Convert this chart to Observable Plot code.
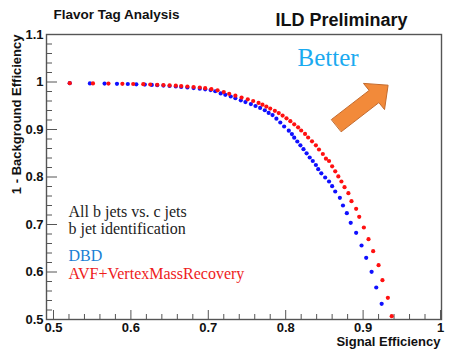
<!DOCTYPE html>
<html><head><meta charset="utf-8">
<script src="https://cdn.jsdelivr.net/npm/d3@7"></script>
<script src="https://cdn.jsdelivr.net/npm/@observablehq/plot@0.6"></script>
<style>html,body{margin:0;padding:0;background:#fff;} #chart svg{display:block;}</style>
</head><body><div id="chart"></div>
<script>
// DBD (blue)
const dbdX = [0.521,0.547,0.566,0.582,0.596,0.607,0.618,0.627,0.634,0.642,0.650,0.658,0.665,0.673,0.681,0.689,0.696,0.703,0.709,0.716,0.722,0.729,0.735,0.742,0.748,0.755,0.761,0.767,0.773,0.778,0.783,0.788,0.793,0.798,0.804,0.808,0.811,0.815,0.819,0.823,0.827,0.831,0.835,0.839,0.842,0.846,0.851,0.856,0.860,0.864,0.870,0.874,0.879,0.884,0.891,0.898,0.904,0.911,0.917,0.924];
const dbdY = [0.9975,0.9971,0.9966,0.9962,0.9958,0.9952,0.9945,0.9939,0.9933,0.9924,0.9916,0.9905,0.9895,0.9884,0.9872,0.9860,0.9846,0.9830,0.9805,0.9760,0.9730,0.9695,0.9660,0.9615,0.9578,0.9535,0.9495,0.9455,0.9405,0.9350,0.9303,0.9227,0.9147,0.9063,0.8975,0.8903,0.8827,0.8747,0.8667,0.8585,0.8499,0.8411,0.8337,0.8253,0.8164,0.8078,0.7989,0.7905,0.7806,0.7695,0.7562,0.7400,0.7238,0.7036,0.6825,0.6558,0.6299,0.6004,0.5674,0.5331];
// AVF+VertexMassRecovery (red)
const avfX = [0.521,0.551,0.571,0.589,0.603,0.616,0.625,0.634,0.642,0.650,0.658,0.665,0.673,0.681,0.689,0.696,0.704,0.712,0.720,0.727,0.735,0.743,0.751,0.758,0.765,0.770,0.775,0.780,0.786,0.791,0.796,0.801,0.806,0.811,0.816,0.820,0.825,0.829,0.834,0.839,0.843,0.848,0.852,0.856,0.860,0.864,0.868,0.872,0.876,0.881,0.885,0.891,0.895,0.901,0.907,0.913,0.920,0.925,0.932,0.937];
const avfY = [0.9975,0.9971,0.9966,0.9962,0.9958,0.9954,0.9947,0.9941,0.9935,0.9928,0.9922,0.9914,0.9905,0.9895,0.9884,0.9870,0.9850,0.9825,0.9790,0.9752,0.9712,0.9672,0.9635,0.9600,0.9560,0.9522,0.9482,0.9440,0.9394,0.9345,0.9293,0.9236,0.9175,0.9109,0.9046,0.8979,0.8907,0.8832,0.8752,0.8667,0.8579,0.8484,0.8385,0.8337,0.8225,0.8120,0.8013,0.7905,0.7785,0.7659,0.7491,0.7331,0.7162,0.6937,0.6691,0.6438,0.6143,0.5827,0.5457,0.5069];
// arrow outline ("Better" direction), in chart units
const arrowX = [0.8593,0.9078,0.9005,0.9323,0.9277,0.9204,0.8720];
const arrowY = [0.9213,0.9823,0.9971,0.9933,0.9419,0.9566,0.8956];

const xTicks = [0.5,0.6,0.7,0.8,0.9,1.0];
const xTickLabels = ["0.5","0.6","0.7","0.8","0.9","1"];
const yTicks = [0.5,0.6,0.7,0.8,0.9,1.0,1.1];
const yTickLabels = ["0.5","0.6","0.7","0.8","0.9","1","1.1"];

const dbd = dbdX.map((x,i)=>({x, y: dbdY[i]}));
const avf = avfX.map((x,i)=>({x, y: avfY[i]}));
const arrow = arrowX.map((x,i)=>({x, y: arrowY[i]}));
const minorX = d3.range(0.52, 1.0, 0.02).filter(v => Math.abs(v*10 - Math.round(v*10)) > 0.01);
const minorY = d3.range(0.52, 1.1, 0.02).filter(v => Math.abs(v*10 - Math.round(v*10)) > 0.01);

const W = 462, H = 350, mL = 46, mR = 21, mT = 34, mB = 31;
const fw = W - mL - mR, fh = H - mT - mB;
const sans = "Liberation Sans, Arial, Helvetica, sans-serif";
const serif = "Liberation Serif, Times New Roman, serif";
function label(str, px, base, fs, opts = {}) {
  return Plot.text([str], {text: d => d, frameAnchor: "top-left", dx: px - mL, dy: base - mT - 0.32*fs,
    lineAnchor: "middle", textAnchor: "start", fontSize: fs, fontFamily: sans, fill: "#111", ...opts});
}

const chart = Plot.plot({
  width: W, height: H, marginLeft: mL, marginRight: mR, marginTop: mT, marginBottom: mB,
  style: {fontFamily: sans, background: "#fff", overflow: "visible"},
  x: {domain: [0.49096, 1.0013], axis: null},
  y: {domain: [0.5, 1.1], axis: null},
  marks: [
    Plot.frame({stroke: "#555", strokeWidth: 1.4}),
    Plot.tickX(xTicks, {x: d => d, insetTop: fh - 9, stroke: "#555"}),
    Plot.tickX(minorX, {x: d => d, insetTop: fh - 5, stroke: "#555"}),
    Plot.tickY(yTicks, {y: d => d, insetRight: fw - 11, stroke: "#555"}),
    Plot.tickY(minorY, {y: d => d, insetRight: fw - 6, stroke: "#555"}),
    Plot.axisX({ticks: xTicks, tickSize: 0, tickPadding: 3, tickFormat: (d,i) => xTickLabels[i], fontSize: 13, fontWeight: "bold", label: null, fill: "#111"}),
    Plot.axisY({ticks: yTicks, tickSize: 0, tickPadding: 3, tickFormat: (d,i) => yTickLabels[i], fontSize: 13, fontWeight: "bold", label: null, fill: "#111"}),
    Plot.dot(dbd, {x: "x", y: "y", r: 2.1, fill: "#1010ff", stroke: "none"}),
    Plot.dot(avf, {x: "x", y: "y", r: 2.1, fill: "#ff1010", stroke: "none"}),
    Plot.line(arrow, {x: "x", y: "y", fill: "#f28a3a", stroke: "#c46a2c", strokeWidth: 1, curve: "linear-closed"}),
    label("Flavor Tag Analysis", 53, 18.5, 13.5, {fontWeight: "bold"}),
    label("ILD Preliminary", 275, 25, 18, {fontWeight: "bold"}),
    label("Better", 297, 65, 25, {fontFamily: serif, fill: "#1aaaf0"}),
    label("All b jets vs. c jets", 68, 216, 16, {fontFamily: serif, fill: "#222"}),
    label("b jet identification", 68, 233, 16, {fontFamily: serif, fill: "#222"}),
    label("DBD", 68, 260, 16, {fontFamily: serif, fill: "#1a7fd4"}),
    label("AVF+VertexMassRecovery", 68, 278, 16, {fontFamily: serif, fill: "#ee1c1c"}),
    label("Signal Efficiency", 440, 345, 13, {fontWeight: "bold", textAnchor: "end"}),
    Plot.text(["1 - Background Efficiency"], {text: d => d, frameAnchor: "top-left", dx: 16 - mL, dy: 0, rotate: -90,
      textAnchor: "end", lineAnchor: "middle", fontSize: 13, fontWeight: "bold", fontFamily: sans, fill: "#111"})
  ]
});
document.getElementById("chart").appendChild(chart);
</script></body></html>
